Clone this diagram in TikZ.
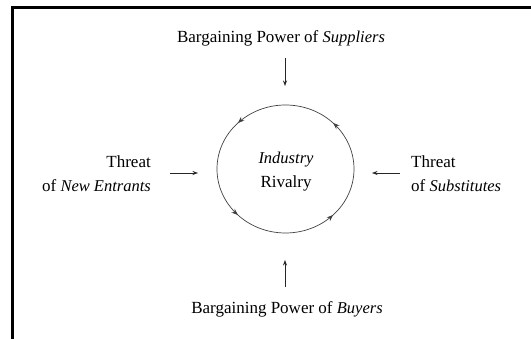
\documentclass[tikz,border=0pt]{standalone}
\usepackage{fontspec}
\setmainfont{Liberation Serif}
\usetikzlibrary{arrows.meta,decorations.markings}
\begin{document}
\begin{tikzpicture}[x=1pt,y=1pt,
  lbl/.style={inner sep=0pt,font=\fontsize{17}{24}\selectfont},
  flow/.style={-{Stealth[length=5.5pt,width=4pt]},line width=0.6pt,draw=black!85},
  ctip/.style={}]
\useasboundingbox (0,0) rectangle (531,339);
\begin{scope}
\clip (0,0) rectangle (531,339);
\draw[line width=2.2pt] (12.5,-5) -- (12.5,331.5) -- (540,331.5);
\end{scope}
\newcommand{\itx}[1]{{\fontsize{16.5}{24}\selectfont\itshape #1}}
% circle
\coordinate (c) at (285.5,170);
\draw[line width=0.7pt,draw=black!75,postaction={decorate},
  decoration={markings,
    mark=at position 0.125 with {\arrow{Stealth[length=6.5pt,width=5pt]}},
    mark=at position 0.375 with {\arrow{Stealth[length=6.5pt,width=5pt]}},
    mark=at position 0.625 with {\arrow{Stealth[length=6.5pt,width=5pt]}},
    mark=at position 0.875 with {\arrow{Stealth[length=6.5pt,width=5pt]}}}]
  (c) ellipse [x radius=68.5, y radius=64];
\node[lbl,align=center] (rival) at (286,167) {\itx{Industry}\\Rivalry};
% texts
\node[lbl] (sup) at (281,301) {Bargaining Power of \itx{Suppliers}};
\node[lbl] (buy) at (287,30) {Bargaining Power of \itx{Buyers}};
\node[lbl,align=right,anchor=east] (new) at (151,165) {Threat\\of \itx{New Entrants}};
\node[lbl,align=left,anchor=west] (subs) at (411,165) {Threat\\of \itx{Substitutes}};
% arrows
\coordinate (supA) at (285,281);
\coordinate (supB) at (285,253);
\coordinate (buyA) at (285,52);
\coordinate (buyB) at (285,79);
\coordinate (newA) at (170,166);
\coordinate (newB) at (198,166);
\coordinate (subA) at (400,166);
\coordinate (subB) at (372,166);
\draw[flow] (supA) -- (supB);
\draw[flow] (buyA) -- (buyB);
\draw[flow] (newA) -- (newB);
\draw[flow] (subA) -- (subB);
\end{tikzpicture}
\end{document}
